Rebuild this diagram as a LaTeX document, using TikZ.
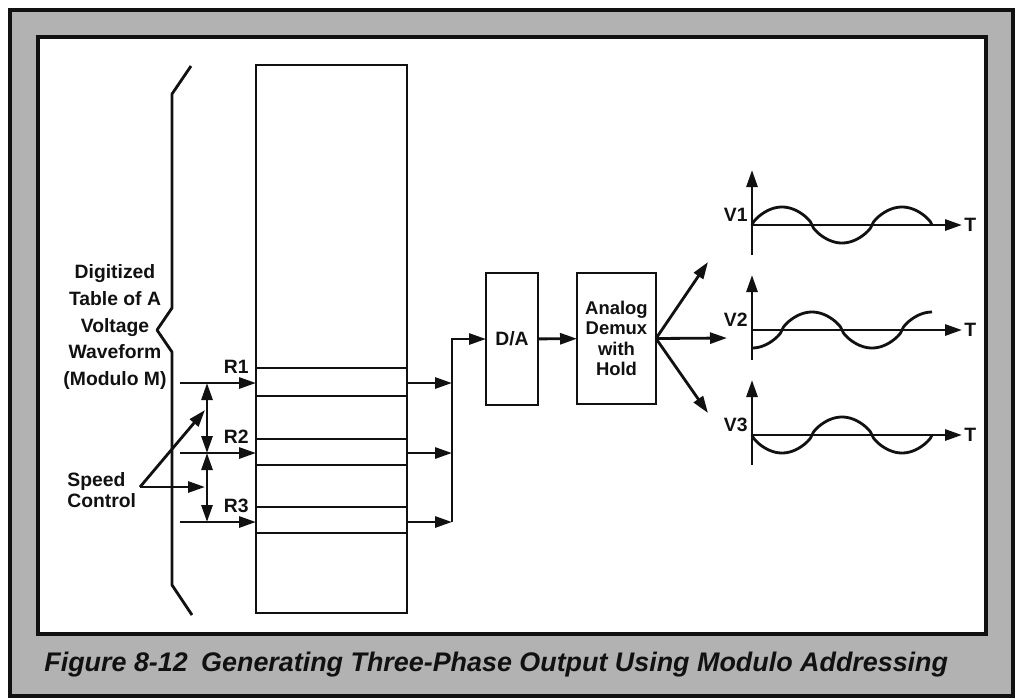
\documentclass[tikz,border=0pt]{standalone}
\usepackage{fontspec}
\setmainfont{Liberation Sans}
\usetikzlibrary{arrows.meta}
\definecolor{Stipple}{HTML}{B2B2B2}
\definecolor{Ink}{HTML}{111111}

\begin{document}
\begin{tikzpicture}[x=0.02cm,y=-0.02cm,line width=1.6pt,>={Triangle[length=3.4mm,width=2.2mm]},
  every node/.style={font=\fontsize{11}{15.3}\selectfont\bfseries,text=Ink,inner sep=0pt},
  box/.style={draw=Ink,outer sep=0pt,inner sep=0pt}]
\useasboundingbox (0,0) rectangle (1021,698);
\fill[Stipple,draw=Ink,line width=2pt] (10,10) rectangle (1013,696);
\draw[Ink,fill=white,line width=2pt] (38,37) rectangle (986,634);
\draw[Ink,line join=round] (191,66)--(172,94)--(172,308)--(157,330)--(172,352)--(172,585)--(192,615);
\node[align=center] (wavetxt) at (115,327) {Digitized\\Table of A\\Voltage\\Waveform\\(Modulo M)};
\node[box,minimum width=3.02cm,minimum height=10.96cm] (tbl) at (331.5,339) {};
\foreach \y in {368,396,439,465,507,533} \draw[Ink,line width=1.3pt] (256,\y)--(407,\y);
\coordinate (sv) at (207,0);
\foreach \n/\y in {1/383,2/453,3/522}{
  \coordinate (in\n) at (180,\y);\coordinate (bus\n) at (452,\y);
  \draw[Ink,->] (in\n)--(in\n -| tbl.west);
  \draw[Ink,->] (bus\n -| tbl.east)--(bus\n);
  \node[anchor=base east] (r\n) at (250,\y-10) {R\n};
}
\draw[Ink,<->] (in1 -| sv)--(in2 -| sv);\draw[Ink,<->] (in2 -| sv)--(in3 -| sv);
\node[align=left,anchor=west,font=\fontsize{11}{11.9}\selectfont\bfseries] (spd) at (66,490) {Speed\\Control};
\coordinate (sc) at (140,487);\coordinate (sc1) at (205,410);\coordinate (sc2) at (205,487);
\draw[Ink,->] (sc)--(sc1);\draw[Ink,->] (sc)--(sc2);
\node[box,minimum width=1.04cm,minimum height=2.64cm] (da) at (512,339) {D/A};
\node[box,minimum width=1.58cm,minimum height=2.62cm,align=center,font=\fontsize{10.5}{11.7}\selectfont\bfseries] (dmx) at (616.5,338.5) {Analog\\Demux\\with\\Hold};
\draw[Ink,->] (bus3) |- (da.west);
\draw[Ink,->] (da)--(dmx);
\coordinate (o1) at (708,262);\coordinate (o2) at (727,338);\coordinate (o3) at (708,413);
\foreach \n in {1,2,3} \draw[Ink,->] (dmx.east)--(o\n);
\foreach \n/\yo in {1/225,2/330,3/435}{
  \draw[Ink,->] (752,\yo+30)--(752,\yo-55);
  \draw[Ink,->] (752,\yo)--(962,\yo);
  \node[anchor=base east] (v\n) at (749,\yo-4) {V\n};
  \node[anchor=west] (t\n) at (963,\yo) {T};
}
\foreach \yo/\ph/\sg in {225/752/1,330/782/1,435/752/-1}
  \draw[Ink,domain=752:932,samples=121,smooth] plot (\x,{\yo-\sg*18*sin(3*(\x-\ph))*(abs(sin(3*(\x-\ph)))+0.002)^(-0.3)});
\node[anchor=base west,font=\fontsize{15.3}{17}\selectfont\bfseries\itshape] (cap) at (43,671) {Figure 8-12\enspace Generating Three-Phase Output Using Modulo Addressing};
\end{tikzpicture}
\end{document}
